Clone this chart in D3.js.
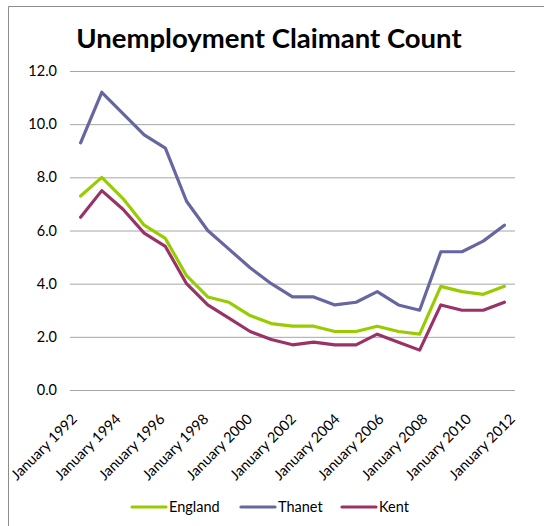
<!DOCTYPE html>
<html>
<head>
<meta charset="utf-8">
<script src="https://cdn.jsdelivr.net/npm/d3@7"></script>
<style>
html,body{margin:0;padding:0;background:#fff;}
svg text{font-family:Lato,"Open Sans",sans-serif;}
</style>
</head>
<body>
<svg id="chart" width="544" height="526"></svg>
<script>
const years = d3.range(1992, 2013);
const tickYears = [1992,1994,1996,1998,2000,2002,2004,2006,2008,2010,2012];
const yTicks = [0,2,4,6,8,10,12];
const england = [7.3,8.0,7.2,6.2,5.7,4.3,3.5,3.3,2.8,2.5,2.4,2.4,2.2,2.2,2.4,2.2,2.1,3.9,3.7,3.6,3.9];
const thanet  = [9.3,11.2,10.4,9.6,9.1,7.1,6.0,5.3,4.6,4.0,3.5,3.5,3.2,3.3,3.7,3.2,3.0,5.2,5.2,5.6,6.2];
const kent    = [6.5,7.5,6.8,5.9,5.4,4.0,3.2,2.7,2.2,1.9,1.7,1.8,1.7,1.7,2.1,1.8,1.5,3.2,3.0,3.0,3.3];
const seriesNames = ["England","Thanet","Kent"];
const seriesColors = ["#99cc00","#6666a0","#993366"];
const series = [england, thanet, kent];

const svg = d3.select("#chart");
// outer border
svg.append("path").attr("d","M8.5,530 V6.5 H550").attr("fill","none").attr("stroke","#8c8c8c").attr("stroke-width",1);

svg.append("text").attr("x",269).attr("y",48).attr("text-anchor","middle")
  .attr("font-size",27.5).attr("font-weight","bold").attr("fill","#000")
  .text("Unemployment Claimant Count");

const x = d3.scaleBand().domain(years).range([70,515]);
const y = d3.scaleLinear().domain([0,12]).range([390,71]);
const xLab = d3.scalePoint().domain(tickYears).range([78,516]);

const gy = svg.append("g").attr("transform","translate(70,0)")
  .call(d3.axisLeft(y).tickValues(yTicks).tickFormat(d3.format(".1f")).tickSize(-445).tickPadding(13));
gy.select(".domain").remove();
gy.selectAll(".tick line").attr("stroke","#a6a6a6").attr("stroke-width",1);
gy.selectAll(".tick text").attr("font-size",14.5).attr("fill","#000").attr("font-family","Lato, sans-serif");

const gx = svg.append("g");
gx.selectAll("text").data(tickYears).enter().append("text")
  .attr("transform", d => `translate(${xLab(d)},420) rotate(-45)`)
  .attr("text-anchor","end").attr("font-size",14.5).attr("fill","#000")
  .text(d => "January " + d);

const line = d3.line().x((d,i)=>x(years[i])+x.bandwidth()/2).y(d=>y(d));
series.forEach((s,i)=>{
  svg.append("path").datum(s).attr("d",line).attr("fill","none")
    .attr("stroke",seriesColors[i]).attr("stroke-width",3.2)
    .attr("stroke-linejoin","round").attr("stroke-linecap","round");
});

// legend
const legX = [132,241,342];
const lg = svg.append("g");
seriesNames.forEach((n,i)=>{
  lg.append("line").attr("x1",legX[i]).attr("x2",legX[i]+34).attr("y1",507).attr("y2",507)
    .attr("stroke",seriesColors[i]).attr("stroke-width",3.2).attr("stroke-linecap","round");
  lg.append("text").attr("x",legX[i]+37).attr("y",512).attr("font-size",14.5).attr("fill","#000").text(n);
});
</script>
</body>
</html>
